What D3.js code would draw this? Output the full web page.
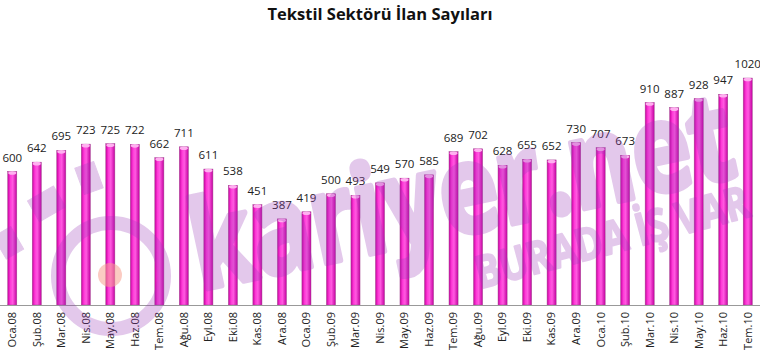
<!DOCTYPE html>
<html>
<head>
<meta charset="utf-8">
<script src="https://cdn.jsdelivr.net/npm/d3@7"></script>
<style>
  body { margin: 0; background: #fff; }
  text { font-family: "Open Sans", "DejaVu Sans", sans-serif; }
</style>
</head>
<body>
<script>
(function(d3) {

  var months = ["Oca.08", "Şub.08", "Mar.08", "Nis.08", "May.08", "Haz.08", "Tem.08", "Ağu.08",
                "Eyl.08", "Eki.08", "Kas.08", "Ara.08", "Oca.09", "Şub.09", "Mar.09", "Nis.09",
                "May.09", "Haz.09", "Tem.09", "Ağu.09", "Eyl.09", "Eki.09", "Kas.09", "Ara.09",
                "Oca.10", "Şub.10", "Mar.10", "Nis.10", "May.10", "Haz.10", "Tem.10"];
  var ilanlar = [600, 642, 695, 723, 725, 722, 662, 711, 611, 538, 451, 387, 419, 500, 493, 549,
                 570, 585, 689, 702, 628, 655, 652, 730, 707, 673, 910, 887, 928, 947, 1020];

  var data = months.map(function(m, i) { return {ay: m, deger: ilanlar[i]}; });

  var svg = d3.select("body").append("svg")
        .attr("width", 760)
        .attr("height", 354),
      width = 760,
      baseY = 305;

  var x = d3.scaleBand()
      .domain(months)
      .range([0, width])
      .paddingInner(0.63)
      .paddingOuter(0.315);

  var y = d3.scaleLinear()
      .domain([0, 1200])
      .range([baseY, 38]);

  var defs = svg.append("defs");
  var grad = defs.append("linearGradient")
      .attr("id", "barGrad")
      .attr("x1", "0%").attr("x2", "100%")
      .attr("y1", "0%").attr("y2", "0%");
  grad.append("stop").attr("offset", "0%").attr("stop-color", "#c8009f");
  grad.append("stop").attr("offset", "30%").attr("stop-color", "#ff3ad8");
  grad.append("stop").attr("offset", "55%").attr("stop-color", "#ff5ae0");
  grad.append("stop").attr("offset", "100%").attr("stop-color", "#c400a0");

  // title
  svg.append("text")
      .attr("x", 380)
      .attr("y", 20)
      .attr("text-anchor", "middle")
      .attr("font-size", 16.5)
      .attr("font-weight", "bold")
      .attr("fill", "#111")
      .text("Tekstil Sektörü İlan Sayıları");

  // bars
  var bars = svg.append("g").attr("class", "bars")
    .selectAll("g")
      .data(data)
    .enter().append("g");

  bars.append("rect")
      .attr("x", function(d) { return x(d.ay); })
      .attr("y", function(d) { return y(d.deger); })
      .attr("width", x.bandwidth())
      .attr("height", function(d) { return baseY - y(d.deger); })
      .attr("fill", "url(#barGrad)")
      .attr("stroke", "#a04a90")
      .attr("stroke-width", 0.5);

  bars.append("ellipse")
      .attr("cx", function(d) { return x(d.ay) + x.bandwidth() / 2; })
      .attr("cy", function(d) { return y(d.deger) + 1.5; })
      .attr("rx", x.bandwidth() / 2 - 0.5)
      .attr("ry", 1.8)
      .attr("fill", "#ffb0f0");

  // value labels
  svg.append("g")
    .selectAll("text")
      .data(data)
    .enter().append("text")
      .attr("x", function(d) { return x(d.ay) + x.bandwidth() / 2; })
      .attr("y", function(d) { return y(d.deger) - 10; })
      .attr("text-anchor", "middle")
      .attr("font-size", 11.5)
      .attr("fill", "#222")
      .text(function(d) { return d.deger; });

  // axis
  var xAxis = svg.append("g")
      .attr("transform", "translate(0," + baseY + ")")
      .call(d3.axisBottom(x).tickSize(0).tickPadding(0));
  xAxis.select(".domain").attr("stroke", "#999").attr("d", "M0,0.5H" + width);
  xAxis.selectAll(".tick text")
      .attr("font-size", 11)
      .attr("fill", "#222")
      .attr("font-family", "Open Sans, sans-serif")
      .attr("transform", "rotate(-90)")
      .attr("text-anchor", "end")
      .attr("x", -7)
      .attr("y", 0)
      .attr("dy", "0.35em");

  // watermark overlay
  var wm = svg.append("g")
      .attr("fill", "#9a3cb8")
      .attr("stroke", "#9a3cb8")
      .attr("stroke-linejoin", "round")
      .attr("opacity", 0.28)
      .style("pointer-events", "none");

  wm.append("circle")
      .attr("cx", 111).attr("cy", 276).attr("r", 53)
      .attr("fill", "none")
      .attr("stroke-width", 14);

  wm.append("rect").attr("x", -10).attr("y", -12).attr("width", 20).attr("height", 26)
      .attr("transform", "translate(8,242) rotate(-30)");
  wm.append("rect").attr("x", -15).attr("y", -11).attr("width", 30).attr("height", 24)
      .attr("transform", "translate(46,203) rotate(-30)");
  wm.append("rect").attr("x", -10).attr("y", -14).attr("width", 20).attr("height", 28)
      .attr("transform", "translate(89,178) rotate(-20)");

  svg.append("circle")
      .attr("cx", 110).attr("cy", 275).attr("r", 12)
      .attr("fill", "#f7a090")
      .attr("opacity", 0.55);

  wm.append("text")
      .attr("transform", "translate(200,290) rotate(-12)")
      .attr("font-size", 122)
      .attr("font-weight", "bold")
      .attr("stroke-width", 6)
      .attr("font-family", "Liberation Sans, Arial, sans-serif")
      .attr("textLength", 552)
      .attr("lengthAdjust", "spacingAndGlyphs")
      .text("kariyer.net");

  wm.append("text")
      .attr("transform", "translate(480,289) rotate(-15)")
      .attr("font-size", 45)
      .attr("font-weight", "bold")
      .attr("stroke-width", 2)
      .attr("font-family", "Liberation Sans, Arial, sans-serif")
      .attr("textLength", 282)
      .attr("lengthAdjust", "spacingAndGlyphs")
      .text("BURADA İŞ VAR");

}(d3));
</script>
</body>
</html>
